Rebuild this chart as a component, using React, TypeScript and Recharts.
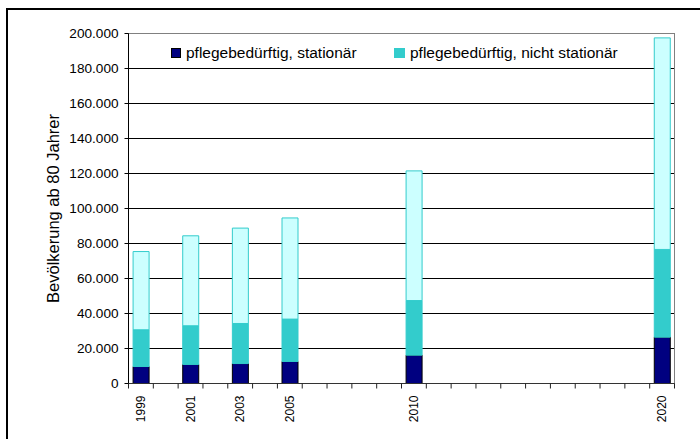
import React from 'react';
import { BarChart, Bar, XAxis, YAxis, CartesianGrid, ReferenceLine } from 'recharts';

const years = [1999, 2001, 2003, 2005, 2010, 2020];
const stationaer = [9700, 10900, 11400, 12600, 16200, 26500];
const nichtStationaer = [21000, 22100, 22900, 24200, 31200, 50100];
const nichtPflegebeduerftig = [44700, 51400, 54500, 57800, 74100, 120900];
const yTicks = [0, 20000, 40000, 60000, 80000, 100000, 120000, 140000, 160000, 180000, 200000];
const firstYear = 1999;
const lastYear = 2020;
const legendLabels = ['pflegebedürftig, stationär', 'pflegebedürftig, nicht stationär'];
const yLabel = 'Bevölkerung ab 80 Jahrer';

const COLORS = { navy: '#000080', teal: '#33CCCC', light: '#CCFFFF' };
const FONT = '"Liberation Sans", Arial, sans-serif';

const data = years.map((year, i) => ({
  year,
  stationaer: stationaer[i],
  nichtStationaer: nichtStationaer[i],
  rest: nichtPflegebeduerftig[i],
}));

const boundaryTicks: number[] = [];
for (let y = firstYear; y <= lastYear + 1; y++) boundaryTicks.push(y - 0.5);
const xTicks = [...boundaryTicks, ...years].sort((a, b) => a - b);

const fmt = (v: number) => String(v).replace(/\B(?=(\d{3})+(?!\d))/g, '.');

const XTick = (props: any) => {
  const { x, y, payload } = props;
  const v = payload.value;
  if (!Number.isInteger(v)) {
    return <line x1={x} x2={x} y1={y} y2={y + 5} stroke="#222" strokeWidth={1} />;
  }
  const ty = y + 12;
  return (
    <text
      x={x}
      y={ty}
      transform={`rotate(-90 ${x} ${ty})`}
      textAnchor="end"
      dy="0.35em"
      fontSize={12}
      fill="#000"
      fontFamily={FONT}
    >
      {v}
    </text>
  );
};

export default function App() {
  return (
    <div style={{ position: 'absolute', left: 0, top: 0, width: 700, height: 439, fontFamily: FONT }}>
      <div
        style={{
          position: 'absolute',
          left: 6,
          top: 8,
          width: 694,
          height: 431,
          borderLeft: '2px solid #000',
          borderTop: '2px solid #000',
          boxSizing: 'border-box',
        }}
      />
      <div style={{ position: 'absolute', left: 0, top: 0 }}>
        <BarChart
          width={700}
          height={439}
          data={data}
          margin={{ top: 33.5, right: 25.5, left: 68.5, bottom: 15.5 }}
        >
          <CartesianGrid vertical={false} stroke="#000" strokeWidth={1} />
          <XAxis
            dataKey="year"
            type="number"
            domain={[firstYear - 0.5, lastYear + 0.5]}
            ticks={xTicks}
            interval={0}
            tick={<XTick />}
            tickLine={false}
            tickSize={0}
            tickMargin={0}
            height={40}
            axisLine={{ stroke: '#333' }}
            allowDataOverflow
          />
          <YAxis
            type="number"
            domain={[0, 200000]}
            ticks={yTicks}
            interval={0}
            width={60}
            tickSize={4}
            tickMargin={6}
            tickFormatter={fmt}
            tick={{ fontSize: 13.6, fill: '#000', fontFamily: FONT }}
            axisLine={{ stroke: '#000' }}
            tickLine={{ stroke: '#000' }}
            label={{
              value: yLabel,
              angle: -90,
              position: 'insideLeft',
              offset: -15,
              style: { textAnchor: 'middle', fontSize: 16.5, fill: '#000', fontFamily: FONT },
            }}
          />
          <ReferenceLine y={200000} stroke="#808080" strokeWidth={1} />
          <ReferenceLine x={lastYear + 0.5} stroke="#808080" strokeWidth={1} />
          <Bar dataKey="stationaer" stackId="a" barSize={16} fill={COLORS.navy} stroke="#000" strokeWidth={1} isAnimationActive={false} />
          <Bar dataKey="nichtStationaer" stackId="a" barSize={16} fill={COLORS.teal} stroke={COLORS.teal} strokeWidth={1} isAnimationActive={false} />
          <Bar dataKey="rest" stackId="a" barSize={16} fill={COLORS.light} stroke={COLORS.teal} strokeWidth={1} isAnimationActive={false} />
        </BarChart>
      </div>
      <div style={{ position: 'absolute', left: 171, top: 44, display: 'flex', alignItems: 'center', fontSize: 15.5, color: '#000', whiteSpace: 'nowrap' }}>
        <span style={{ display: 'inline-block', width: 10, height: 10, background: COLORS.navy, border: '1px solid #000', boxSizing: 'border-box', marginRight: 5 }} />
        <span>{legendLabels[0]}</span>
      </div>
      <div style={{ position: 'absolute', left: 394, top: 44, display: 'flex', alignItems: 'center', fontSize: 15.5, color: '#000', whiteSpace: 'nowrap' }}>
        <span style={{ display: 'inline-block', width: 11, height: 10, background: COLORS.teal, boxSizing: 'border-box', marginRight: 5 }} />
        <span>{legendLabels[1]}</span>
      </div>
    </div>
  );
}
